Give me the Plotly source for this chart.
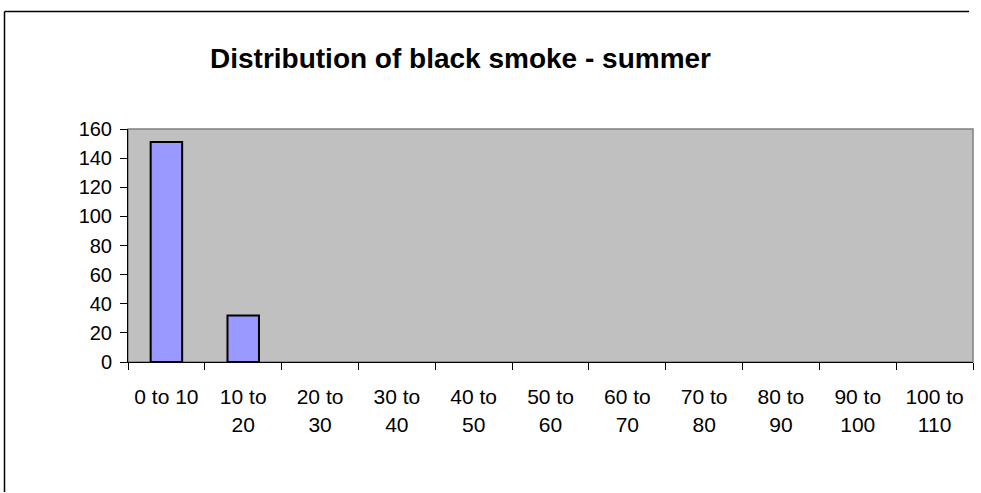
import plotly.graph_objects as go

# Black smoke concentration bins (summer) and the number of observations in each
bins = ["0 to 10", "10 to 20", "20 to 30", "30 to 40", "40 to 50", "50 to 60",
        "60 to 70", "70 to 80", "80 to 90", "90 to 100", "100 to 110"]
counts = [151, 32, 0, 0, 0, 0, 0, 0, 0, 0, 0]
bin_labels = ["0 to 10", "10 to<br>20", "20 to<br>30", "30 to<br>40", "40 to<br>50",
              "50 to<br>60", "60 to<br>70", "70 to<br>80", "80 to<br>90",
              "90 to<br>100", "100 to<br>110"]
y_ticks = [0, 20, 40, 60, 80, 100, 120, 140, 160]

W, H = 981, 493
L, R, T, B = 128, 8, 129, 131
FONT = "Arial, Liberation Sans, sans-serif"

# empty bins get no outline so nothing is drawn on the baseline
outline_widths = [2 if c > 0 else 0 for c in counts]

fig = go.Figure(go.Bar(
    x=bins, y=counts,
    marker=dict(color="#9999FF", line=dict(color="black", width=outline_widths)),
    width=0.41,
))

fig.update_layout(
    width=W, height=H,
    margin=dict(l=L, r=R, t=T, b=B, pad=0),
    paper_bgcolor="white",
    plot_bgcolor="#C0C0C0",
    showlegend=False,
    font=dict(family=FONT, color="black", size=20),
    xaxis=dict(
        type="category", tickmode="array", tickvals=bins, ticktext=bin_labels,
        tickson="boundaries", ticks="outside", ticklen=7, tickcolor="black",
        showline=True, linecolor="black", linewidth=1,
        showgrid=False, zeroline=False, tickfont=dict(size=21),
        ticklabelstandoff=16,
        range=[-0.5, 10.5],
    ),
    yaxis=dict(
        range=[0, 160], tickmode="array", tickvals=y_ticks,
        ticks="outside", ticklen=7, tickcolor="black",
        showline=True, linecolor="black", linewidth=1,
        showgrid=False, zeroline=False, tickfont=dict(size=20),
        ticklabelstandoff=4,
    ),
)

# gray frame around the plotting area
fig.add_shape(type="rect", xref="paper", yref="paper", x0=0, y0=0, x1=1, y1=1,
              line=dict(color="#808080", width=1.5), layer="below")

# outer chart border: only its top and left edges fall inside the page
pw, ph = W - L - R, H - T - B
bx, by = (4.5 - L) / pw, (H - B - 11.5) / ph
fig.add_shape(type="line", xref="paper", yref="paper",
              x0=bx, x1=(W - 12 - L) / pw, y0=by, y1=by,
              line=dict(color="black", width=1.5))
fig.add_shape(type="line", xref="paper", yref="paper",
              x0=bx, x1=bx, y0=by, y1=(H - B - (H - 1)) / ph,
              line=dict(color="black", width=1.5))

fig.add_annotation(
    text="<b>Distribution of black smoke - summer</b>",
    xref="paper", yref="paper",
    x=(460 - L) / pw, y=(H - B - 58) / ph,
    xanchor="center", yanchor="middle", showarrow=False,
    font=dict(size=28, family=FONT),
)

fig.write_html("out.html")
